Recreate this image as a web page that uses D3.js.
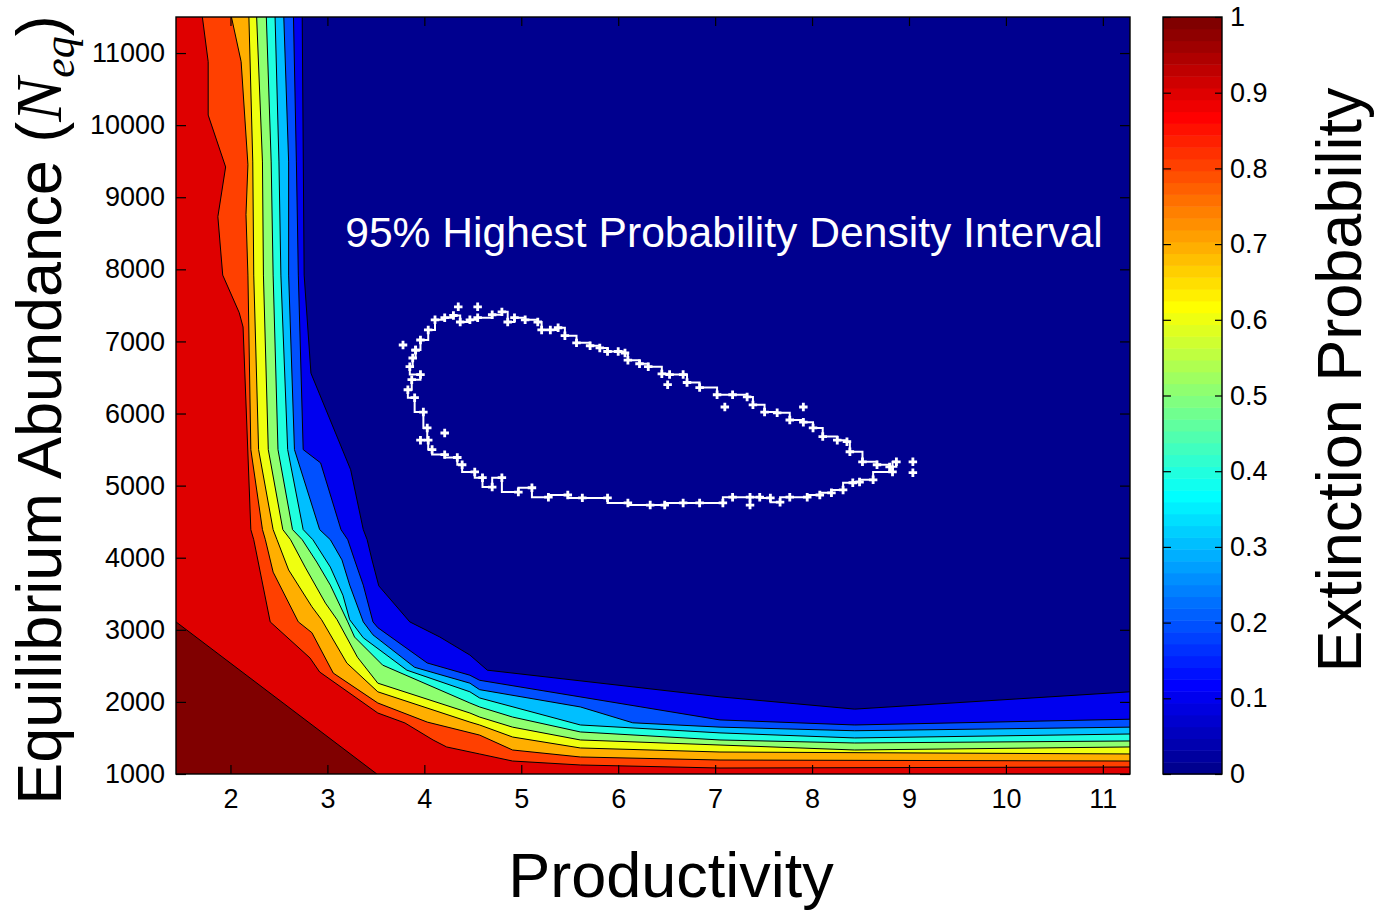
<!DOCTYPE html>
<meta charset="utf-8">
<style>
body { margin: 0; background: #fff; }
svg { display: block; font-family: "Liberation Sans", Arial, sans-serif; }
.contour { fill: none; stroke: #000; stroke-width: 1; }
.axis text { font-size: 27px; fill: #000; font-family: "Liberation Sans", Arial, sans-serif; }
.axis path { display: none; }
.axis line { stroke: #000; stroke-width: 1.2; }
.frame { fill: none; stroke: #000; stroke-width: 1.4; }
.hpd { fill: none; stroke: #fff; stroke-width: 2; }
</style>
<body>
<svg id="chart" width="1378" height="914"></svg>

<script src="https://d3js.org/d3.v7.min.js"></script>
<script>

var xTicks = [2, 3, 4, 5, 6, 7, 8, 9, 10, 11];
var yTicks = [1000, 2000, 3000, 4000, 5000, 6000, 7000, 8000, 9000, 10000, 11000];
var cbTicks = [0, 0.1, 0.2, 0.3, 0.4, 0.5, 0.6, 0.7, 0.8, 0.9, 1];

// contour levels of extinction probability
var levels = [0.1, 0.2, 0.3, 0.4, 0.5, 0.6, 0.7, 0.8, 0.9, 1.0];

// contour lines: [productivity, abundance]
var c01 = [[2.74,11500],[2.76,7920],[2.83,6560],[3.24,5220],[3.37,4390],[3.41,4250],[3.46,3970],[3.53,3610],[3.85,3110],[4.16,2900],[4.47,2650],[4.65,2440],[7.05,2070],[8.44,1900],[11.28,2140]];
var c02 = [[2.65,11500],[2.68,9490],[2.70,7920],[2.75,5500],[2.93,5315],[3.14,4390],[3.21,4250],[3.28,3970],[3.37,3620],[3.47,3110],[3.52,3030],[4.03,2540],[4.47,2370],[4.57,2300],[7.05,1750],[8.44,1680],[11.28,1760]];
var c03 = [[2.55,11500],[2.60,9490],[2.60,7920],[2.66,5500],[2.92,4390],[3.03,4250],[3.15,3970],[3.23,3620],[3.37,3110],[3.47,2930],[3.90,2480],[4.47,2260],[4.57,2170],[5.61,1930],[6.15,1710],[7.05,1650],[8.44,1600],[11.28,1650]];
var c04 = [[2.46,11500],[2.50,9490],[2.52,7920],[2.59,5500],[2.75,4390],[2.85,4250],[3.03,3870],[3.16,3480],[3.23,3140],[3.37,2890],[3.82,2440],[4.47,2140],[4.57,2055],[5.61,1680],[7.05,1570],[8.44,1500],[11.28,1555]];
var c05 = [[2.37,11500],[2.42,9490],[2.44,7920],[2.49,5500],[2.64,4390],[2.74,4250],[2.89,3940],[3.03,3620],[3.21,3110],[3.28,2900],[3.57,2510],[4.47,1985],[4.57,1930],[4.91,1790],[5.61,1583],[7.05,1472],[8.44,1430],[11.28,1458]];
var c06 = [[2.27,11500],[2.33,9490],[2.34,7920],[2.39,5500],[2.54,4390],[2.62,4250],[2.77,3870],[2.98,3370],[3.10,3140],[3.31,2620],[3.52,2260],[4.47,1846],[4.57,1790],[4.91,1650],[5.61,1472],[7.05,1402],[8.44,1333],[11.28,1375]];
var c07 = [[2.19,11500],[2.23,9490],[2.24,7920],[2.29,5500],[2.44,4390],[2.48,4250],[2.60,3830],[2.84,3320],[2.94,3140],[3.20,2540],[3.52,2140],[4.47,1720],[4.57,1680],[4.91,1513],[5.61,1361],[7.05,1305],[11.28,1278]];
var c08 = [[2.01,11500],[2.11,10880],[2.18,9450],[2.16,8760],[2.18,7920],[2.21,5500],[2.33,4390],[2.36,4250],[2.44,3800],[2.70,3110],[2.84,2960],[3.06,2400],[3.52,1985],[4.03,1720],[4.57,1540],[4.91,1333],[5.61,1236],[7.05,1194],[11.28,1180]];
var c09 = [[1.71,11500],[1.77,10880],[1.77,10140],[1.95,9420],[1.87,8730],[1.92,7920],[2.09,7400],[2.13,7200],[2.21,4390],[2.24,4250],[2.41,3110],[2.82,2610],[2.92,2415],[3.52,1846],[3.80,1708],[4.09,1472],[4.23,1375],[4.57,1278],[4.91,1180],[5.61,1125],[7.05,1083],[11.28,1097]];
var c10 = [[1.438,3110],[3.51,1000]];
var contourLines = [c01, c02, c03, c04, c05, c06, c07, c08, c09, c10];

// 95% highest probability density interval outline
var hpd = [[3.91,6880],[3.96,7020],[4.04,7160],[4.11,7300],[4.21,7330],[4.30,7360],[4.37,7270],[4.47,7300],[4.55,7330],[4.70,7370],[4.80,7410],[4.86,7270],[4.93,7330],[5.04,7300],[5.17,7270],[5.21,7160],[5.30,7160],[5.38,7190],[5.45,7080],[5.57,6980],[5.71,6940],[5.81,6910],[5.89,6860],[6.00,6860],[6.07,6840],[6.10,6740],[6.22,6690],[6.31,6650],[6.45,6550],[6.53,6540],[6.67,6540],[6.71,6430],[6.84,6360],[7.02,6260],[7.18,6260],[7.33,6230],[7.39,6120],[7.51,6020],[7.64,6010],[7.77,5910],[7.91,5880],[8.01,5800],[8.11,5680],[8.26,5630],[8.36,5610],[8.39,5470],[8.52,5330],[8.67,5290],[8.80,5260],[8.87,5330],[8.83,5190],[8.63,5080],[8.49,5050],[8.42,5040],[8.32,4940],[8.20,4900],[8.08,4870],[7.95,4840],[7.77,4840],[7.67,4770],[7.57,4830],[7.46,4840],[7.36,4840],[7.18,4840],[7.08,4760],[6.84,4760],[6.67,4760],[6.48,4730],[6.33,4730],[6.10,4760],[5.89,4830],[5.63,4830],[5.48,4870],[5.28,4840],[5.11,4970],[4.97,4910],[4.80,5110],[4.70,4980],[4.60,5110],[4.52,5190],[4.39,5290],[4.34,5390],[4.21,5430],[4.08,5500],[4.04,5630],[4.03,5800],[3.99,6020],[3.90,6220],[3.83,6330],[3.87,6470],[3.96,6540],[3.85,6650],[3.88,6770],[3.91,6880]];
var hpdStray = [[3.78,6950],[4.35,7480],[4.55,7480],[6.51,6400],[7.10,6090],[7.91,6090],[7.36,4730],[9.04,5330],[9.04,5180],[3.96,5630],[4.21,5730]];

var xMin = 1.438, xMax = 11.28, yMin = 1000, yMax = 11500;

var svg = d3.select("#chart");

var x = d3.scaleLinear().domain([xMin, xMax]).range([176, 1130]);
var y = d3.scaleLinear().domain([yMin, yMax]).range([774, 17]);

// MATLAB jet(64) colormap
function jet(k) {
	function u(j) {
		if (j < 1 || j > 47) return 0;
		if (j <= 16) return j / 16;
		if (j <= 31) return 1;
		return (48 - j) / 16;
	}
	var r = k >= 25 ? u(k - 24) : 0;
	var g = (k >= 9 && k <= 55) ? u(k - 8) : 0;
	var b = k <= 39 ? u(k + 8) : 0;
	return d3.rgb(r * 255, g * 255, b * 255).formatHex();
}
function levelColor(v) { return jet(Math.min(64, Math.floor(v * 64 + 1e-9) + 1)); }

svg.append("clipPath").attr("id", "plotclip")
	.append("rect")
	.attr("x", x(xMin)).attr("y", y(yMax))
	.attr("width", x(xMax) - x(xMin)).attr("height", y(yMin) - y(yMax));

var plot = svg.append("g").attr("clip-path", "url(#plotclip)");

plot.append("rect")
	.attr("x", x(xMin)).attr("y", y(yMax))
	.attr("width", x(xMax) - x(xMin)).attr("height", y(yMin) - y(yMax))
	.attr("fill", levelColor(0));

var line = d3.line().x(function(d) { return x(d[0]); }).y(function(d) { return y(d[1]); });

// region above each level: the line closed round the lower-left corner
function region(pts) {
	var p = pts.slice();
	var first = p[0], last = p[p.length - 1];
	if (last[0] >= xMax) p.push([xMax, yMin]);
	p.push([xMin, yMin]);
	if (first[1] >= yMax) p.push([xMin, yMax]);
	return p;
}

contourLines.forEach(function(c, i) {
	plot.append("path")
		.attr("d", line(region(c)) + "Z")
		.attr("fill", levelColor(levels[i]));
});

plot.selectAll(".contour")
	.data(contourLines)
	.enter().append("path")
	.attr("class", "contour")
	.attr("d", line);

// HPD outline
plot.append("path")
	.attr("class", "hpd")
	.attr("d", d3.line().curve(d3.curveStepAfter)
		.x(function(d) { return x(d[0]); }).y(function(d) { return y(d[1]); })(hpd));

var cross = d3.symbol().type(d3.symbolCross).size(40);
plot.selectAll(".hpdmark")
	.data(hpd.concat(hpdStray))
	.enter().append("path")
	.attr("class", "hpdmark")
	.attr("transform", function(d) { return "translate(" + x(d[0]) + "," + y(d[1]) + ")"; })
	.attr("d", cross)
	.attr("fill", "#fff");

plot.append("text")
	.attr("x", 724).attr("y", 247)
	.attr("text-anchor", "middle")
	.attr("fill", "#fff")
	.style("font-size", "42.6px")
	.text("95% Highest Probability Density Interval");

// axes with inward ticks
svg.append("g").attr("class", "axis")
	.attr("transform", "translate(0," + y(yMin) + ")")
	.call(d3.axisBottom(x).tickValues(xTicks).tickSize(-9).tickPadding(15).tickFormat(d3.format("d")));
svg.append("g").attr("class", "axis")
	.attr("transform", "translate(0," + y(yMax) + ")")
	.call(d3.axisTop(x).tickValues(xTicks).tickSize(-9).tickFormat(""));
svg.append("g").attr("class", "axis")
	.attr("transform", "translate(" + x(xMin) + ",0)")
	.call(d3.axisLeft(y).tickValues(yTicks).tickSize(-10).tickPadding(11).tickFormat(d3.format("d")));
svg.append("g").attr("class", "axis")
	.attr("transform", "translate(" + x(xMax) + ",0)")
	.call(d3.axisRight(y).tickValues(yTicks).tickSize(-10).tickFormat(""));

svg.append("rect").attr("class", "frame")
	.attr("x", x(xMin)).attr("y", y(yMax))
	.attr("width", x(xMax) - x(xMin)).attr("height", y(yMin) - y(yMax));

// colorbar
var cb = d3.scaleLinear().domain([0, 1]).range([774, 17]);
var cbX = 1163, cbW = 59;
svg.selectAll(".cbcell")
	.data(d3.range(1, 65))
	.enter().append("rect")
	.attr("class", "cbcell")
	.attr("x", cbX).attr("width", cbW)
	.attr("y", function(k) { return cb(k / 64); })
	.attr("height", function(k) { return cb((k - 1) / 64) - cb(k / 64) + 0.5; })
	.attr("fill", function(k) { return jet(k); });

svg.append("g").attr("class", "axis")
	.attr("transform", "translate(" + (cbX + cbW) + ",0)")
	.call(d3.axisRight(cb).tickValues(cbTicks).tickSize(-7).tickPadding(8).tickFormat(d3.format("")));
svg.append("g").attr("class", "axis")
	.attr("transform", "translate(" + cbX + ",0)")
	.call(d3.axisLeft(cb).tickValues(cbTicks).tickSize(-8).tickFormat(""));
svg.append("rect").attr("class", "frame")
	.attr("x", cbX).attr("y", cb(1)).attr("width", cbW).attr("height", cb(0) - cb(1));

// titles
svg.append("text")
	.attr("x", 671).attr("y", 897)
	.attr("text-anchor", "middle")
	.style("font-size", "63px")
	.text("Productivity");

var yl = svg.append("text")
	.attr("transform", "translate(61,410) rotate(-90)")
	.attr("text-anchor", "middle")
	.style("font-size", "63px");
yl.append("tspan").text("Equilibrium Abundance (");
yl.append("tspan").style("font-family", "'Liberation Serif', 'Times New Roman', serif")
	.style("font-style", "italic").style("font-size", "66px").text("N");
yl.append("tspan").style("font-family", "'Liberation Serif', 'Times New Roman', serif")
	.style("font-style", "italic").style("font-size", "44px").attr("dy", 13).text("eq");
yl.append("tspan").attr("dy", -13).text(")");

svg.append("text")
	.attr("transform", "translate(1361,380) rotate(-90)")
	.attr("text-anchor", "middle")
	.style("font-size", "63px")
	.text("Extinction Probability");

</script>
